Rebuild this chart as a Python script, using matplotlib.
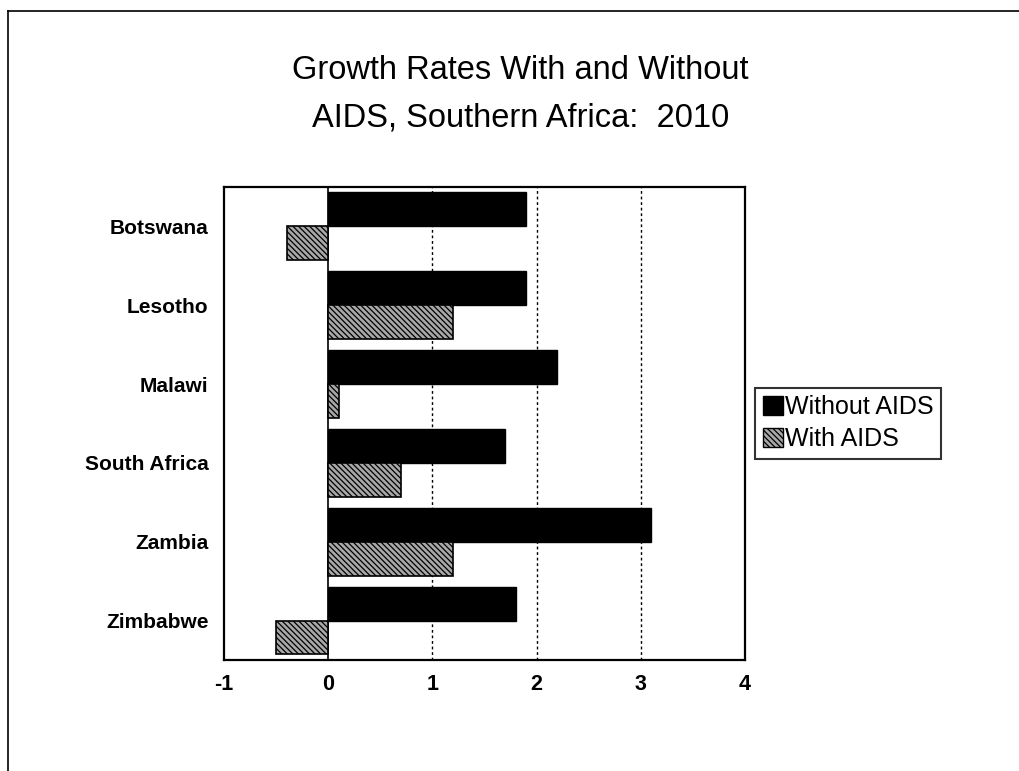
import matplotlib
matplotlib.use("Agg")
import matplotlib.pyplot as plt
from matplotlib.patches import Patch
from matplotlib.lines import Line2D

countries = ["Botswana", "Lesotho", "Malawi", "South Africa", "Zambia", "Zimbabwe"]
without_aids = [1.9, 1.9, 2.2, 1.7, 3.1, 1.8]
with_aids = [-0.4, 1.2, 0.1, 0.7, 1.2, -0.5]
xticks = [-1, 0, 1, 2, 3, 4]
title = "Growth Rates With and Without\nAIDS, Southern Africa:  2010"

plt.rcParams['font.family'] = ['Liberation Sans', 'DejaVu Sans']
plt.rcParams['hatch.linewidth'] = 0.9

HATCH_FC = '#a8a8a8'
HATCH = '\\\\\\\\\\\\'

fig = plt.figure(figsize=(10.2, 7.71), dpi=100)
ax = fig.add_axes([0.2196, 0.144, 0.5108, 0.6135])

n = len(countries)
pos = list(range(n))
h = 0.43
ax.barh([p - h / 2 for p in pos], without_aids, height=h, color='black',
        edgecolor='black', linewidth=1, zorder=3, label='Without AIDS')
ax.barh([p + h / 2 for p in pos], with_aids, height=h, color=HATCH_FC,
        edgecolor='black', linewidth=1.2, hatch=HATCH, zorder=3, label='With AIDS')

ax.set_xlim(-1, 4)
ax.set_ylim(n - 0.5, -0.5)
ax.set_xticks(xticks)
ax.set_xticklabels([str(t) for t in xticks], fontsize=15.5, fontweight='bold')
ax.set_yticks(pos)
ax.set_yticklabels(countries, fontsize=15, fontweight='bold')
ax.tick_params(axis='both', length=0)
ax.tick_params(axis='x', pad=10)
ax.tick_params(axis='y', pad=11)

for t in [1, 2, 3]:
    ax.axvline(t, color='black', linestyle=(0, (2, 2)), linewidth=1, zorder=1)
ax.axvline(0, color='black', linewidth=1.2, zorder=2)
for s in ax.spines.values():
    s.set_linewidth(1.6)

fig.text(0.51, 1 - 94.5 / 771, title, ha='center', va='center', fontsize=23.5,
         linespacing=1.68)

handles = [Patch(facecolor='black', edgecolor='black'),
           Patch(facecolor=HATCH_FC, edgecolor='black', hatch=HATCH)]
leg = fig.legend(handles, ['Without AIDS', 'With AIDS'], loc='upper left',
                 bbox_to_anchor=(755 / 1020, 1 - 388 / 771), fontsize=18,
                 frameon=True, fancybox=False, edgecolor='black',
                 handlelength=0.8, handleheight=0.8, handletextpad=0.1,
                 borderpad=0.3, labelspacing=0.3, borderaxespad=0)
leg.get_frame().set_linewidth(1.5)

# outer chart-area border
fig.add_artist(Line2D([8 / 1020, 8 / 1020], [0, 1 - 11 / 771], color='black',
                      linewidth=1.2, transform=fig.transFigure))
fig.add_artist(Line2D([8 / 1020, 1], [1 - 11 / 771, 1 - 11 / 771], color='black',
                      linewidth=1.2, transform=fig.transFigure))

fig.savefig("out.png", dpi=100)
